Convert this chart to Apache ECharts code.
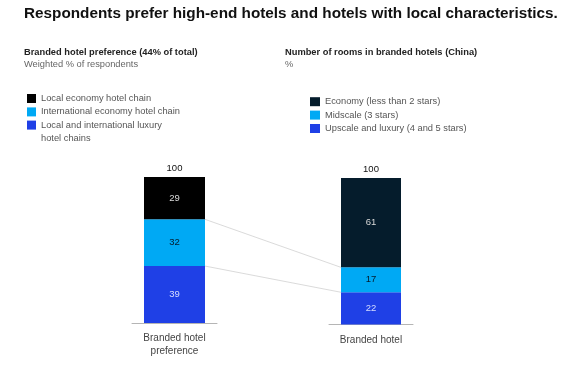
<!DOCTYPE html>
<html><head><meta charset="utf-8">
<script src="https://cdn.jsdelivr.net/npm/echarts@6/dist/echarts.min.js"></script>
<style>html,body{margin:0;padding:0;background:#fff}#c{width:572px;height:370px}</style>
</head><body><div id="c"></div>
<script>
const chartTitle = 'Respondents prefer high-end hotels and hotels with local characteristics.';
const leftTitle = 'Branded hotel preference (44% of total)';
const leftSubtitle = 'Weighted % of respondents';
const rightTitle = 'Number of rooms in branded hotels (China)';
const rightSubtitle = '%';
const leftCategory = ['Branded hotel\npreference'];
const rightCategory = ['Branded hotel'];
// bottom to top
const leftSeriesNames = ['Local and international luxury hotel chains', 'International economy hotel chain', 'Local economy hotel chain'];
const leftValues = [39, 32, 29];
const rightSeriesNames = ['Upscale and luxury (4 and 5 stars)', 'Midscale (3 stars)', 'Economy (less than 2 stars)'];
const rightValues = [22, 17, 61];
const leftColors = ['#1f40e6', '#00a9f4', '#000000'];
const rightColors = ['#1f40e6', '#00a9f4', '#051c2c'];
const labelColors = ['#d6dcff', '#051c2c', '#d9d9d9'];
const FONT = '"Liberation Sans", Arial, sans-serif';

const sum = a => a.reduce((s, v) => s + v, 0);
const chart = echarts.init(document.getElementById('c'), null, {renderer: 'canvas'});

function makeSeries(names, values, colors, idx, barWidth) {
  const s = names.map((n, i) => ({
    name: n, type: 'bar', stack: 'st' + idx, xAxisIndex: idx, yAxisIndex: idx,
    barWidth: barWidth, data: [values[i]],
    itemStyle: {color: colors[i]},
    label: {show: true, position: 'inside', color: labelColors[i], fontSize: 9.5, fontFamily: FONT},
    emphasis: {disabled: true}, animation: false
  }));
  s.push({
    name: 'total' + idx, type: 'bar', stack: 'st' + idx, xAxisIndex: idx, yAxisIndex: idx,
    barWidth: barWidth, data: [0], itemStyle: {color: 'transparent'},
    label: {show: true, position: 'top', distance: 4, color: '#111', fontSize: 9.5, fontFamily: FONT,
      formatter: () => String(sum(values))},
    animation: false
  });
  return s;
}

const axisX = (cats, idx) => ({
  type: 'category', gridIndex: idx, data: cats,
  axisLine: {show: true, lineStyle: {color: '#b5b5b5', width: 1}},
  axisTick: {show: false},
  axisLabel: {color: '#444', fontSize: 10, lineHeight: 13, margin: 9, fontFamily: FONT}
});
const axisY = idx => ({type: 'value', gridIndex: idx, min: 0, max: 100, show: false, splitLine: {show: false}});

const legendText = {color: '#555', fontSize: 9.3, fontFamily: FONT, lineHeight: 13.4};

const option = {
  animation: false,
  title: [
    {text: chartTitle, left: 24, top: 6, padding: 0,
      textStyle: {fontSize: 15.3, fontWeight: 'bold', color: '#111', fontFamily: FONT}},
    {text: leftTitle, subtext: leftSubtitle, left: 24, top: 47.5, padding: 0, itemGap: 3,
      textStyle: {fontSize: 9.3, fontWeight: 'bold', color: '#222', fontFamily: FONT},
      subtextStyle: {fontSize: 9.3, color: '#666', fontFamily: FONT}},
    {text: rightTitle, subtext: rightSubtitle, left: 285, top: 47.5, padding: 0, itemGap: 3,
      textStyle: {fontSize: 9.3, fontWeight: 'bold', color: '#222', fontFamily: FONT},
      subtextStyle: {fontSize: 9.3, color: '#666', fontFamily: FONT}}
  ],
  legend: [
    {data: [leftSeriesNames[2], leftSeriesNames[1]], orient: 'vertical', left: 27, top: 91.8, padding: 0,
      itemWidth: 9, itemHeight: 9, itemGap: 0, icon: 'rect', textStyle: legendText, selectedMode: false},
    {data: [leftSeriesNames[0]], orient: 'vertical', left: 27, top: 105, padding: 0,
      itemWidth: 9, itemHeight: 9, icon: 'rect', textStyle: legendText, selectedMode: false,
      formatter: () => '\nLocal and international luxury\nhotel chains'},
    {data: [rightSeriesNames[2], rightSeriesNames[1], rightSeriesNames[0]], orient: 'vertical', left: 310, top: 95, padding: 0,
      itemWidth: 10, itemHeight: 9, itemGap: 0, icon: 'rect', textStyle: legendText, selectedMode: false}
  ],
  grid: [
    {left: 132, width: 85, top: 177, bottom: 370 - 323, containLabel: false},
    {left: 329, width: 84, top: 178, bottom: 370 - 324.5, containLabel: false}
  ],
  xAxis: [axisX(leftCategory, 0), axisX(rightCategory, 1)],
  yAxis: [axisY(0), axisY(1)],
  series: [...makeSeries(leftSeriesNames, leftValues, leftColors, 0, 61),
           ...makeSeries(rightSeriesNames, rightValues, rightColors, 1, 60)]
};
chart.setOption(option);

// connector lines between matching segment tops
const lPix = v => chart.convertToPixel({xAxisIndex: 0, yAxisIndex: 0}, [0, v]);
const rPix = v => chart.convertToPixel({xAxisIndex: 1, yAxisIndex: 1}, [0, v]);
const connectors = [
  [leftValues[0] + leftValues[1], rightValues[0] + rightValues[1]],
  [leftValues[0], rightValues[0]]
];
chart.setOption({
  graphic: connectors.map(([lv, rv]) => {
    const a = lPix(lv), b = rPix(rv);
    return {type: 'line', silent: true, z: 0,
      shape: {x1: a[0] + 30.5, y1: a[1], x2: b[0] - 30, y2: b[1]},
      style: {stroke: '#d0d0d0', lineWidth: 0.8}};
  })
});
</script></body></html>
